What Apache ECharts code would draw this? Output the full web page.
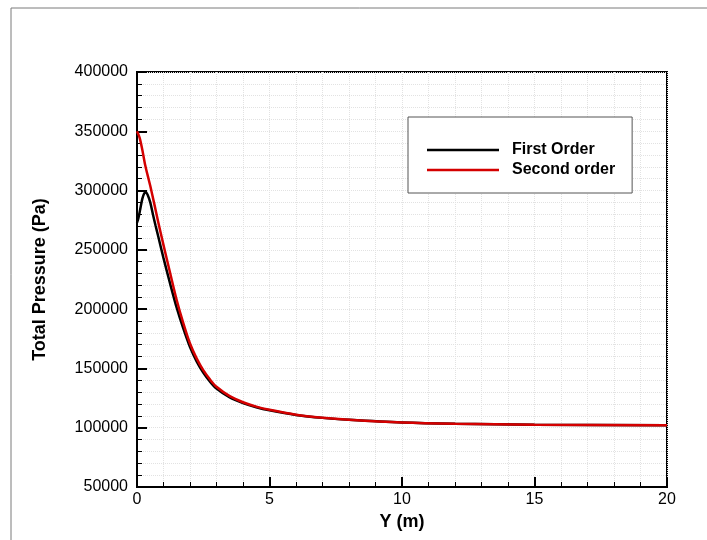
<!DOCTYPE html>
<html>
<head>
<meta charset="utf-8">
<script src="https://cdn.jsdelivr.net/npm/echarts@6/dist/echarts.min.js"></script>
<style>
  html, body { margin: 0; padding: 0; background: #fff; }
  #chart { width: 707px; height: 540px; }
</style>
</head>
<body>
<div id="chart"></div>
<script>
// Y (m) positions and total pressure (Pa)
var firstX = [0, 0.05, 0.12, 0.2, 0.27, 0.33, 0.4, 0.5, 0.6, 0.7, 0.8, 1, 1.25, 1.5, 1.75, 2, 2.25, 2.5, 2.75, 3, 3.5, 4, 4.5, 5, 6, 7, 8, 10, 12, 15, 20];
var firstP = [273000, 276500, 284000, 293000, 297500, 298500, 296500, 290000, 280000, 270500, 261500, 243000, 221500, 201000, 183500, 168000, 156000, 146500, 139000, 133000, 125500, 120800, 117300, 114700, 110800, 108300, 106700, 104400, 103300, 102600, 102000];

var secondX = [0, 0.1, 0.2, 0.3, 0.4, 0.5, 0.65, 0.8, 1, 1.25, 1.5, 1.75, 2, 2.25, 2.5, 2.75, 3, 3.5, 4, 4.5, 5, 6, 7, 8, 10, 12, 15, 20];
var secondP = [350000, 344500, 334500, 322500, 313000, 304000, 289000, 273500, 254000, 230500, 207500, 188000, 171000, 158500, 148500, 140800, 134500, 126600, 121500, 117800, 115100, 111000, 108500, 106800, 104500, 103400, 102600, 102000];

var seriesNames = ['First Order', 'Second order'];

function pairs(xs, ys) {
  return xs.map(function (x, i) { return [x, ys[i]]; });
}

var chart = echarts.init(document.getElementById('chart'));

var gridLine = { show: true, lineStyle: { color: '#e2e2e2', type: 'dotted', width: 1 } };

var option = {
  animation: false,
  backgroundColor: '#fff',
  textStyle: { fontFamily: 'Liberation Sans, Arial, sans-serif' },
  graphic: [{
    type: 'rect',
    shape: { x: 11, y: 8, width: 900, height: 900 },
    style: { fill: 'none', stroke: '#7a7a7a', lineWidth: 1 },
    silent: true
  }],
  grid: {
    left: 137, right: 40, top: 72, bottom: 53,
    show: true, borderColor: '#000', borderWidth: 2
  },
  legend: {
    orient: 'vertical',
    left: 408, top: 117,
    padding: [23, 17, 13, 19],
    borderColor: '#555', borderWidth: 1,
    backgroundColor: '#fff',
    icon: 'rect',
    itemWidth: 72, itemHeight: 2.5, itemGap: 0,
    textStyle: { fontSize: 16, fontWeight: 'bold', color: '#000', lineHeight: 20, padding: [0, 0, 0, 8] },
    data: seriesNames
  },
  xAxis: {
    type: 'value', min: 0, max: 20, interval: 5,
    name: 'Y (m)', nameLocation: 'middle', nameGap: 24,
    nameTextStyle: { fontSize: 18, fontWeight: 'bold', color: '#000' },
    axisLine: { show: true, lineStyle: { color: '#000', width: 2 } },
    axisTick: { inside: true, length: 10, lineStyle: { color: '#000', width: 2 } },
    minorTick: { show: true, splitNumber: 5, length: 5, lineStyle: { color: '#000', width: 1 } },
    axisLabel: { fontSize: 16, color: '#000', margin: 5 },
    splitLine: gridLine,
    minorSplitLine: gridLine
  },
  yAxis: {
    type: 'value', min: 50000, max: 400000, interval: 50000,
    name: 'Total Pressure (Pa)', nameLocation: 'middle', nameGap: 88,
    nameTextStyle: { fontSize: 18, fontWeight: 'bold', color: '#000' },
    axisLine: { show: true, lineStyle: { color: '#000', width: 2 } },
    axisTick: { inside: true, length: 10, lineStyle: { color: '#000', width: 2 } },
    minorTick: { show: true, splitNumber: 5, length: 5, lineStyle: { color: '#000', width: 1 } },
    axisLabel: { fontSize: 16, color: '#000', margin: 9, formatter: function (v) { return String(v); } },
    splitLine: gridLine,
    minorSplitLine: gridLine
  },
  series: [
    {
      name: seriesNames[0], type: 'line', smooth: 0.3, showSymbol: false,
      color: '#000',
      lineStyle: { color: '#000', width: 2.5 },
      data: pairs(firstX, firstP)
    },
    {
      name: seriesNames[1], type: 'line', smooth: 0.3, showSymbol: false,
      color: '#d40000',
      lineStyle: { color: '#d40000', width: 2.5 },
      data: pairs(secondX, secondP)
    }
  ]
};

chart.setOption(option);
</script>
</body>
</html>
